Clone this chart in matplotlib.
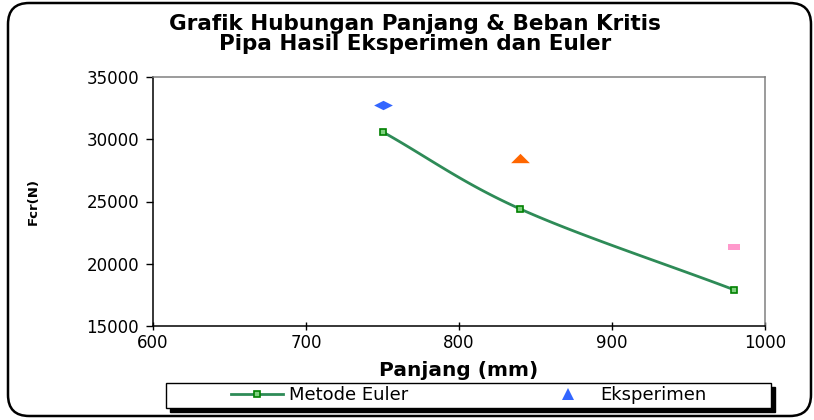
import numpy as np
import matplotlib
matplotlib.use("Agg")
import matplotlib.pyplot as plt
from matplotlib.patches import FancyBboxPatch, Rectangle
from matplotlib.lines import Line2D

plt.rcParams['font.family'] = ['DejaVu Sans']

# --- data ---
panjang = [750, 840, 980]                 # mm
fcr_euler = [30600, 24400, 17900]         # N
fcr_eksperimen = [32750, 28500, 21350]    # N

title_lines = ["Grafik Hubungan Panjang & Beban Kritis",
               "Pipa Hasil Eksperimen dan Euler"]
x_ticks = [600, 700, 800, 900, 1000]
y_ticks = [15000, 20000, 25000, 30000, 35000]

# per-point styling of the experiment series
exp_markers = ["D", "^", "s"]
exp_colors = ["#3366FF", "#FF6600", "#FF99CC"]


def smooth_curve(xs, ys, xr, yr, n=40):
    """Catmull-Rom curve through the points, computed in axis-normalised space."""
    px = (np.asarray(xs, float) - xr[0]) / (xr[1] - xr[0])
    py = (np.asarray(ys, float) - yr[0]) / (yr[1] - yr[0])
    P = np.column_stack([px, py])
    P = np.vstack([P[0] - (P[1] - P[0]), P, P[-1] + (P[-1] - P[-2])])
    out = []
    t = np.linspace(0, 1, n)[:, None]
    for i in range(1, len(P) - 2):
        p0, p1, p2, p3 = P[i - 1], P[i], P[i + 1], P[i + 2]
        seg = 0.5 * ((2 * p1) + (-p0 + p2) * t + (2 * p0 - 5 * p1 + 4 * p2 - p3) * t ** 2
                     + (-p0 + 3 * p1 - 3 * p2 + p3) * t ** 3)
        out.append(seg if i == 1 else seg[1:])
    out = np.vstack(out)
    return (out[:, 0] * (xr[1] - xr[0]) + xr[0],
            out[:, 1] * (yr[1] - yr[0]) + yr[0])


W, H = 814, 420
fig = plt.figure(figsize=(W / 100, H / 100), dpi=100)

# rounded outer frame of the chart
frame = FancyBboxPatch((8 / W, 4 / H), (803 / W), (413 / H),
                       boxstyle="round,pad=0,rounding_size=0.026",
                       transform=fig.transFigure, facecolor="none",
                       edgecolor="black", linewidth=1.8, zorder=-5,
                       mutation_aspect=W / H)
fig.patches.append(frame)

ax = fig.add_axes([153 / W, 1 - 326 / H, (765 - 153) / W, (326 - 77) / H])
ax.set_facecolor("none")
xr = (600, 1000)
yr = (15000, 35000)
ax.set_xlim(*xr)
ax.set_ylim(*yr)

# Euler curve (smoothed) with square markers
sx, sy = smooth_curve(panjang, fcr_euler, xr, yr)
ax.plot(sx, sy, color="#2E8B57", linewidth=2.0, zorder=3)
ax.plot(panjang, fcr_euler, linestyle="none", marker="s", markersize=4.5,
        markerfacecolor="#7FD07F", markeredgecolor="#008000",
        markeredgewidth=1.2, zorder=4)

# experiment points, each with its own marker and colour (drawn wide and flat)
wide = {
    "D": [(-1, 0), (0, 0.5), (1, 0), (0, -0.5), (-1, 0)],
    "^": [(-1, -0.5), (0, 0.5), (1, -0.5), (-1, -0.5)],
    "s": [(-1, -0.5), (-1, 0.5), (1, 0.5), (1, -0.5), (-1, -0.5)],
}
exp_sizes = {"D": 13.5, "^": 13.5, "s": 9}
for xv, yv, mk, col in zip(panjang, fcr_eksperimen, exp_markers, exp_colors):
    ax.plot([xv], [yv], linestyle="none", marker=wide[mk],
            markersize=exp_sizes[mk], color=col, markeredgewidth=0, zorder=5)

ax.set_xticks(x_ticks)
ax.set_yticks(y_ticks)
ax.tick_params(axis="x", direction="inout", length=6, width=1, labelsize=12, pad=3)
ax.tick_params(axis="y", direction="out", length=5, width=1, labelsize=12, pad=5)
for s in ("left", "bottom"):
    ax.spines[s].set_color("black")
    ax.spines[s].set_linewidth(1.1)
for s in ("top", "right"):
    ax.spines[s].set_color("#808080")
    ax.spines[s].set_linewidth(1.1)

ax.set_xlabel("Panjang (mm)", fontsize=14.5, fontweight="bold", labelpad=6)
ax.set_ylabel("Fcr(N)", fontsize=9.5, fontweight="bold")
ax.yaxis.set_label_coords(-(153 - 40) / (765 - 153), 0.5)

fig.text(415 / W, 1 - 30 / H, title_lines[0], ha="center", va="baseline",
         fontsize=15.5, fontweight="bold")
fig.text(415 / W, 1 - 50 / H, title_lines[1], ha="center", va="baseline",
         fontsize=15.5, fontweight="bold")

# legend box with a solid drop shadow
lx0, lx1, ly0, ly1 = 166, 771, 383, 408
shadow = Rectangle(((lx0 + 4) / W, 1 - (ly1 + 4) / H), (lx1 - lx0) / W,
                   (ly1 - ly0) / H, transform=fig.transFigure,
                   facecolor="black", edgecolor="black", zorder=1)
box = Rectangle((lx0 / W, 1 - ly1 / H), (lx1 - lx0) / W, (ly1 - ly0) / H,
                transform=fig.transFigure, facecolor="white",
                edgecolor="black", linewidth=1.0, zorder=2)
fig.patches.extend([shadow, box])

h_euler = Line2D([], [], color="#2E8B57", linewidth=2.0, marker="s",
                 markersize=4.5, markerfacecolor="#7FD07F",
                 markeredgecolor="#008000", markeredgewidth=1.2)
h_exp = Line2D([], [], linestyle="none", marker="^", markersize=8,
               color="#3366FF", markeredgewidth=0)
leg = fig.legend([h_euler, h_exp], ["Metode Euler", "Eksperimen"],
                 loc="center", bbox_to_anchor=(469 / W, 1 - (ly0 + ly1) / 2 / H),
                 ncol=2, frameon=False, fontsize=13, handlelength=2.9,
                 handletextpad=0.33, columnspacing=7.4)
leg.set_zorder(3)

fig.savefig("out.png", dpi=100)
